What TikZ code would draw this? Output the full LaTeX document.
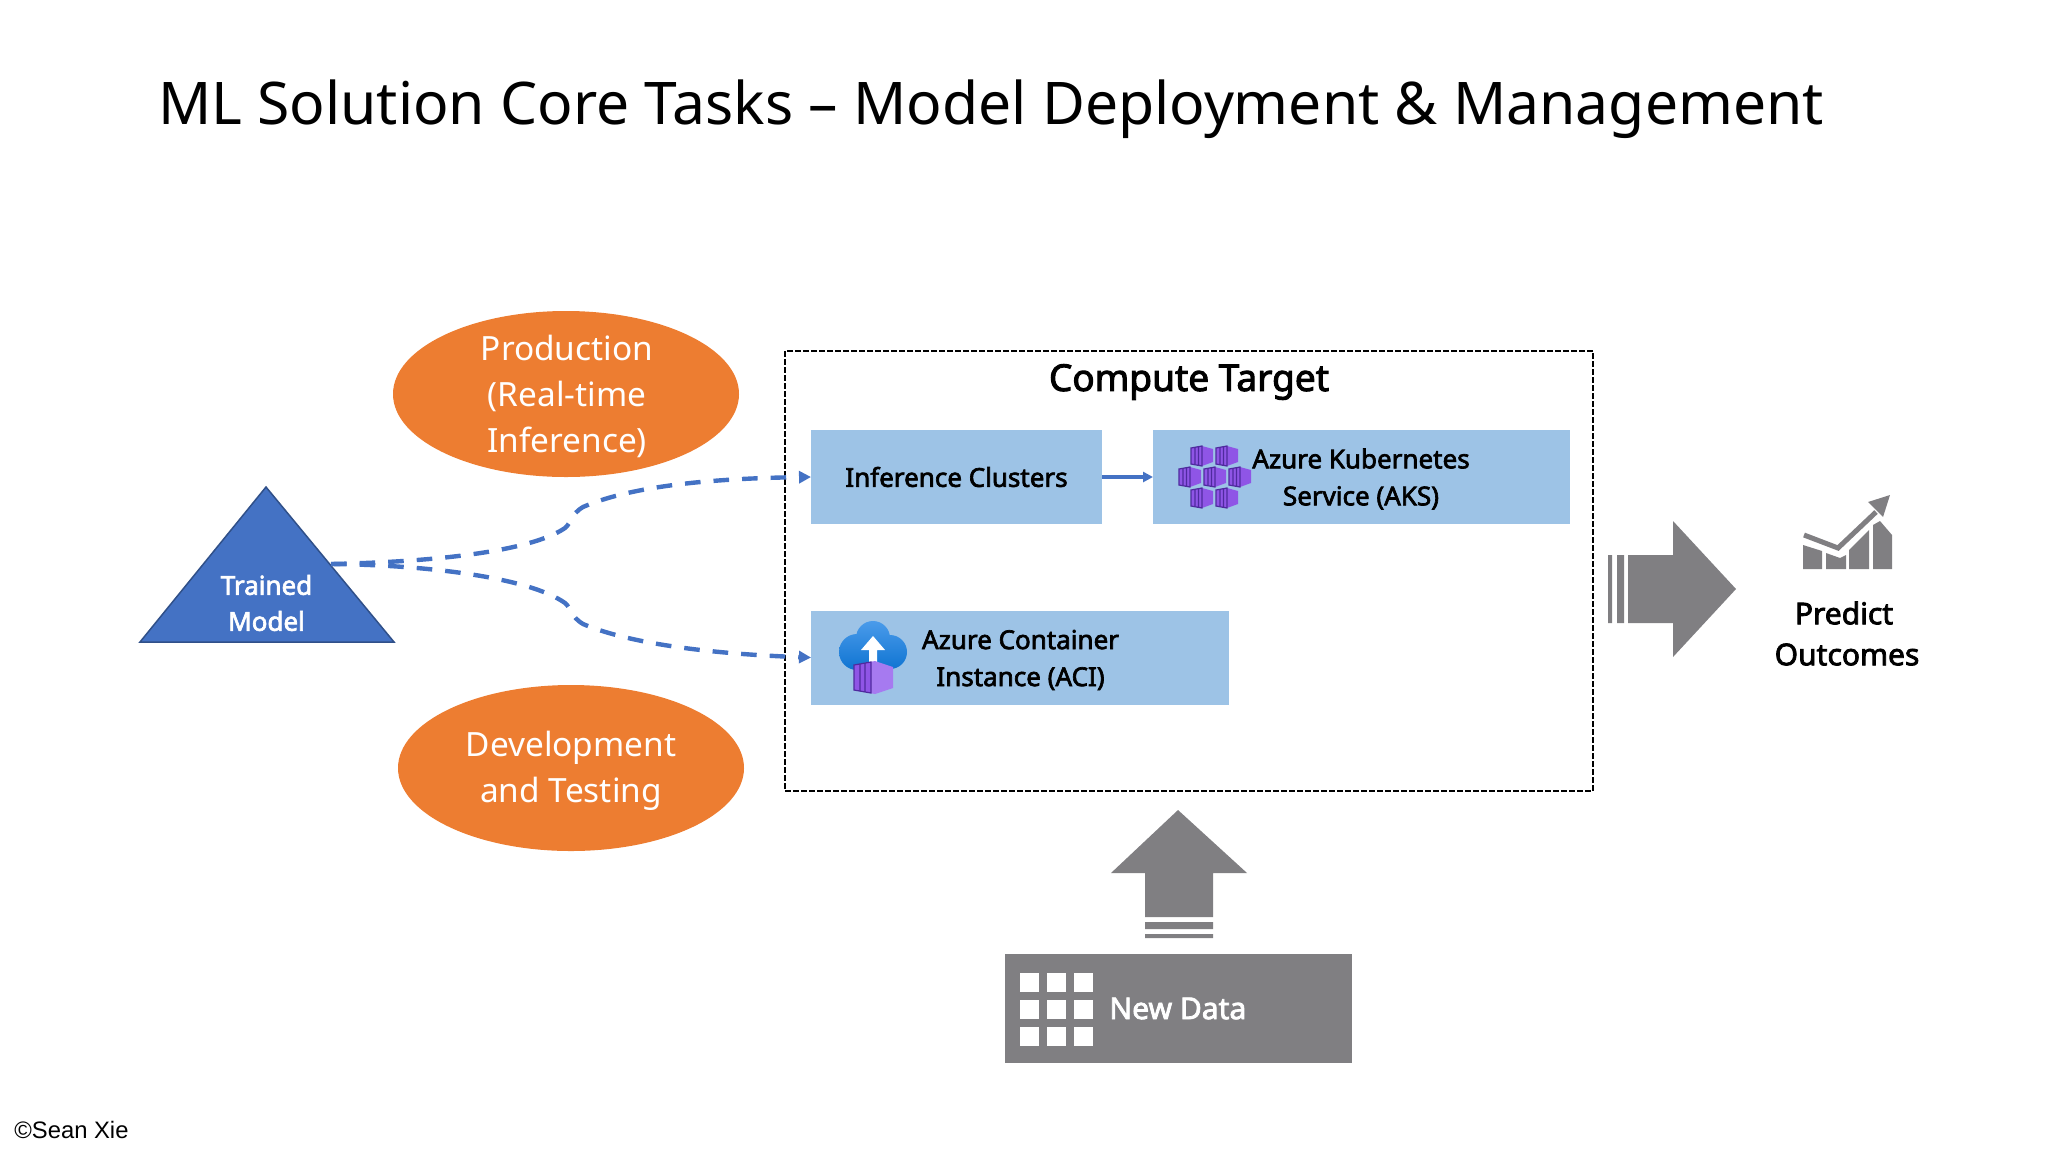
\documentclass[tikz,border=0pt]{standalone}
\usepackage{fontspec}
\setmainfont{Noto Sans}[BoldFont=*, BoldFeatures={FakeBold=2.6}]
\newfontfamily\creditfont{Liberation Sans}
\usetikzlibrary{positioning,arrows.meta,shapes.geometric}
\definecolor{flowblue}{HTML}{4472C4}
\definecolor{boxblue}{HTML}{9DC3E6}
\definecolor{taskorange}{HTML}{ED7D31}
\definecolor{blockgray}{HTML}{807F82}
\definecolor{cubedark}{HTML}{4F2A9E}
\definecolor{cubelight}{HTML}{8F55E6}
\definecolor{cloudtop}{HTML}{4A9BEA}
\definecolor{cloudbottom}{HTML}{0F74D2}
\definecolor{crateside}{HTML}{A67AF0}

\begin{document}
\begin{tikzpicture}[
    x=0.5pt, y=-0.5pt,
    block/.style={rectangle, fill=boxblue, minimum height=47pt, align=center, outer sep=0pt, inner sep=0pt,
        font=\fontsize{13}{18.5}\selectfont\bfseries},
    blocktext/.style={align=center, inner sep=0pt, font=\fontsize{13}{18.5}\selectfont\bfseries},
    task/.style={ellipse, fill=taskorange, minimum width=173pt, minimum height=83pt, inner sep=0pt},
    tasktext/.style={text=white, align=center, inner sep=0pt, font=\fontsize{16.7}{23}\selectfont},
    flow/.style={-{Triangle[length=6pt,width=6pt]}, flowblue, line width=2.2pt, dash pattern=on 7.8pt off 6.5pt},
    arrow/.style={-{Triangle[length=5pt,width=5pt]}, flowblue, line width=1.75pt},
    label/.style={align=center, inner sep=0pt, font=\fontsize{15}{20.5}\selectfont\bfseries},
    cube/.pic={
        \fill[cubelight] (-11,-8) -- (0,-10) -- (11,-7) -- (11,6) -- (0,10) -- (-11,8) -- cycle;
        \draw[cubedark, line width=0.6pt] (-11,-8) -- (0,-10) -- (0,10) -- (-11,8) -- cycle (-7,-8.5) -- (-7,8.5) (-3.5,-9) -- (-3.5,9);
    }
]
\useasboundingbox (0,0) rectangle (2048,1152);

\node[font=\fontsize{29.4}{34}\selectfont, inner sep=0pt] (title) at (991,109) {ML Solution Core Tasks -- Model Deployment \& Management};

\node[task] (production) at (566,394) {};
\node[tasktext] (productiontext) at (567,396) {Production\\(Real-time\\Inference)};
\node[task] (development) at (571,768) {};
\node[tasktext] (developmenttext) at (571,771) {Development\\and Testing};

\fill[flowblue, draw=flowblue!70!black, line width=0.75pt] (266,487) -- (394,642) -- (140,642) -- cycle;
\node[align=center, inner sep=0pt, text=white, font=\fontsize{13}{18}\selectfont\bfseries] (model) at (266.5,603) {Trained\\Model};
\coordinate (modelout) at (331,564);

\node[draw, dash pattern=on 3pt off 1pt, line width=1pt, minimum width=404pt, minimum height=220pt, outer sep=0pt] (target) at (1189,571) {};
\node[font=\fontsize{18.5}{20}\selectfont\bfseries, inner sep=0pt] (targetname) at (1189,382) {Compute Target};

\node[block, minimum width=145.5pt] (clusters) at (956.5,477) {Inference Clusters};
\node[block, minimum width=208.5pt, right=25.5pt of clusters] (aks) {};
\node[blocktext] (akstext) at (1361,479) {Azure Kubernetes\\Service (AKS)};
\node[block, minimum width=209pt] (aci) at (1020,657.5) {};
\node[blocktext] (acitext) at (1020.5,660) {Azure Container\\Instance (ACI)};

\draw[arrow] (clusters) -- (aks);
\draw[flow] (modelout) .. controls (430,562) and (530,552) .. (565,528) .. controls (572,522) and (570,515) .. (583,507) .. controls (640,482) and (740,478) .. (clusters.west);
\draw[flow] (modelout) .. controls (430,565) and (530,578) .. (565,603) .. controls (572,609) and (570,616) .. (583,624) .. controls (640,648) and (740,655) .. (aci.west);

\foreach \x/\y in {1202/456, 1227/456, 1190/477, 1215/477, 1240/477, 1202/498, 1227/498}
    \pic at (\x,\y) {cube};

\shade[top color=cloudtop, bottom color=cloudbottom]
    (857,652) circle (18) (890,652) circle (17) (873,638) circle (17) (873,652) circle (17);
\fill[white] (873,636) -- (885,650) -- (877,650) -- (877,664) -- (869,664) -- (869,650) -- (861,650) -- cycle;
\fill[crateside] (854,665) -- (875,661) -- (893,667) -- (893,688) -- (875,694) -- (854,690) -- cycle;
\fill[cubelight] (854,665) -- (871,662) -- (871,693) -- (854,690) -- cycle;
\draw[cubedark, line width=0.6pt] (854,665) -- (871,662) -- (871,693) -- (854,690) -- cycle (860,664) -- (860,691) (865,663) -- (865,692);

\fill[blockgray] (1628,555) -- (1673,555) -- (1673,521) -- (1736,589) -- (1673,657) -- (1673,623) -- (1628,623) -- cycle;
\fill[blockgray] (1608,555) rectangle (1612,623) (1617,555) rectangle (1624,623);

\fill[blockgray] (1803,545) -- (1822,551) -- (1822,569) -- (1803,569) -- cycle;
\fill[blockgray] (1826,553) -- (1840,558) -- (1846,555) -- (1846,569) -- (1826,569) -- cycle;
\fill[blockgray] (1849,550) -- (1869,530) -- (1869,569) -- (1849,569) -- cycle;
\fill[blockgray] (1873,525) -- (1880,521) -- (1892,535) -- (1892,569) -- (1873,569) -- cycle;
\draw[blockgray, line width=2.5pt] (1804,535) -- (1838,548) -- (1876,512);
\fill[blockgray] (1890,495) -- (1868,502) -- (1883,517) -- cycle;
\node[label] (predict) at (1847,633.5) {Predict\hspace*{3pt}\\Outcomes};

\fill[blockgray] (1178,810) -- (1247,873) -- (1213,873) -- (1213,917) -- (1145,917) -- (1145,873) -- (1111,873) -- cycle;
\fill[blockgray] (1145,922) rectangle (1213,929) (1145,934) rectangle (1213,938);

\node[fill=blockgray, minimum width=173.5pt, minimum height=54.5pt, outer sep=0pt, inner sep=0pt] (newdata) at (1178.5,1008.5) {};
\foreach \x in {1020,1047,1074}
    \foreach \y in {973,1000,1027}
        \fill[white] (\x,\y) rectangle ++(19,19);
\node[label, text=white, right=0pt of newdata.west, xshift=52pt] (newdatatext) {New Data};

\node[font=\creditfont\fontsize{11.9}{14}\selectfont, inner sep=0pt, anchor=west] (credit) at (14,1130) {©Sean Xie};
\end{tikzpicture}
\end{document}
